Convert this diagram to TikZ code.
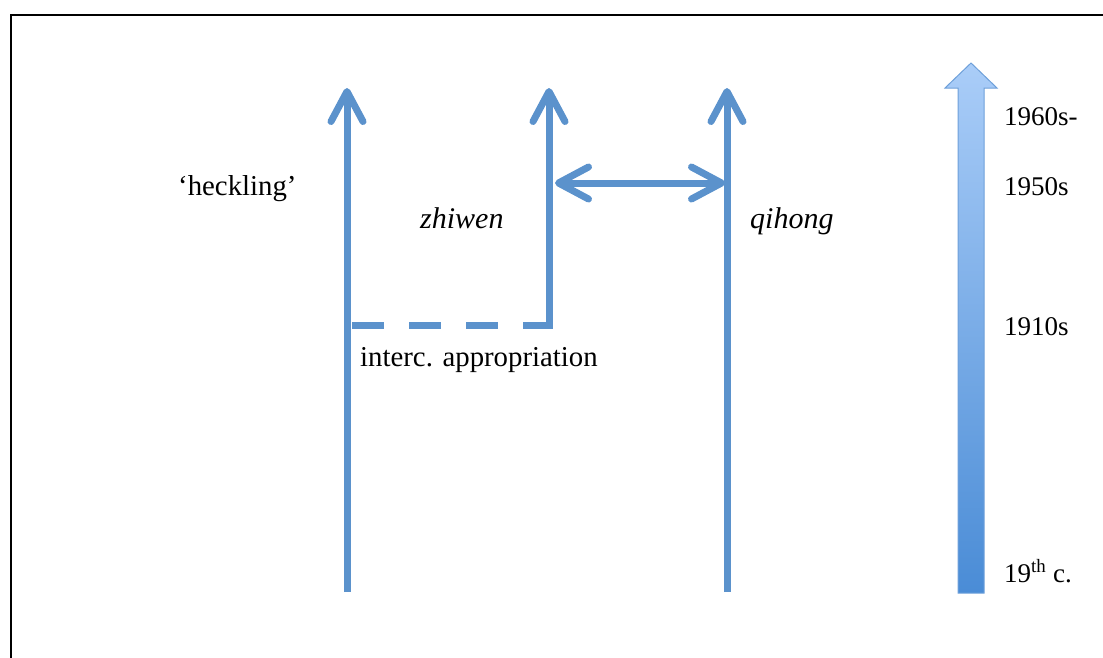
\documentclass[tikz,border=0pt]{standalone}
\usepackage{fontspec}
\setmainfont{Liberation Serif}
\usetikzlibrary{arrows.meta}
\definecolor{lineblue}{RGB}{91,146,204}
\definecolor{toplight}{RGB}{170,205,248}
\definecolor{botdark}{RGB}{74,140,214}
\definecolor{edgeblue}{RGB}{110,160,218}
\tikzset{
  barb/.style={Straight Barb[length=30pt,width=32pt,line cap=round,round]},
  flow/.style={draw=lineblue, line width=7pt, line cap=butt, -{Straight Barb[length=30pt,width=32pt,line cap=round,round]}},
  biflow/.style={draw=lineblue, line width=7pt,
    {Straight Barb[length=30pt,width=32pt,line cap=round,round]}-{Straight Barb[length=30pt,width=32pt,line cap=round,round]}},
  dashflow/.style={draw=lineblue, line width=7pt, dash pattern=on 32pt off 25pt},
  lab/.style={anchor=base west, inner sep=0pt, font=\fontsize{28.8}{30}\selectfont},
  ilab/.style={anchor=base west, inner sep=0pt, font=\fontsize{30}{32}\selectfont\itshape},
  yr/.style={anchor=base west, inner sep=0pt, font=\fontsize{27}{30}\selectfont},
}
\begin{document}
\begin{tikzpicture}[x=1pt,y=-1pt]
\useasboundingbox (0,0) rectangle (1103,657);
% frame
\draw[line width=2pt, line cap=rect] (11,657) -- (11,15) -- (1103,15);
% coordinates
\coordinate (h1b) at (347,592);
\coordinate (h1t) at (347,88);
\coordinate (z0) at (352,325);
\coordinate (zc) at (552.5,325);
\coordinate (zb) at (549,328.5);
\coordinate (zt) at (549,88);
\coordinate (qb) at (727,592);
\coordinate (qt) at (727,88);
\coordinate (dl) at (555,183);
\coordinate (dr) at (725,183);
% connectors
\draw[flow] (h1b) -- (h1t);
\draw[dashflow] (z0) -- (zc);
\draw[flow] (zb) -- (zt);
\draw[flow] (qb) -- (qt);
\draw[biflow] (dl) -- (dr);
% timeline block arrow
\shade[top color=toplight, bottom color=botdark, draw=edgeblue, line width=1pt]
  (958,593) -- (958,88) -- (945,88) -- (971,63) -- (997,88) -- (984,88) -- (984,593) -- cycle;
% labels
\node[lab] (heck) at (178,195) {‘heckling’};
\node[ilab] (zhi) at (420,228) {zhiwen};
\node[ilab] (qi) at (750,228) {qihong};
\node[lab] (interc) at (360,366) {interc. appropriation};
\node[yr] (y60) at (1004,125) {1960s-};
\node[yr] (y50) at (1004,195) {1950s};
\node[yr] (y10) at (1004,335) {1910s};
\node[yr] (y19) at (1004,582) {19\textsuperscript{th} c.};
\end{tikzpicture}
\end{document}
